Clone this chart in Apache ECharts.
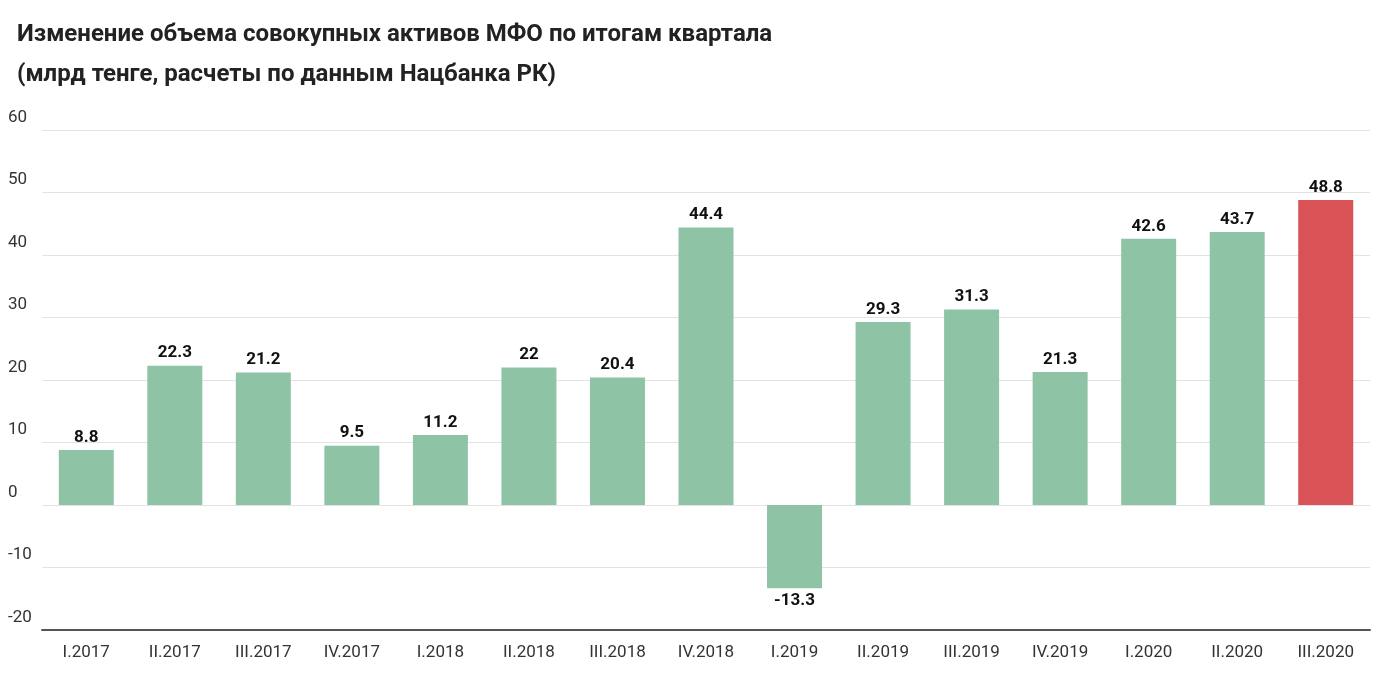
<!DOCTYPE html>
<html>
<head>
<meta charset="utf-8">
<script src="https://cdn.jsdelivr.net/npm/echarts@6/dist/echarts.min.js"></script>
<style>body{margin:0;background:#fff}#main{width:1388px;height:675px}</style>
</head>
<body>
<div id="main"></div>
<script>
var quarters = ['I.2017','II.2017','III.2017','IV.2017','I.2018','II.2018','III.2018','IV.2018','I.2019','II.2019','III.2019','IV.2019','I.2020','II.2020','III.2020'];
var values = [8.8, 22.3, 21.2, 9.5, 11.2, 22, 20.4, 44.4, -13.3, 29.3, 31.3, 21.3, 42.6, 43.7, 48.8];
var highlight = 'III.2020';

var chart = echarts.init(document.getElementById('main'));
chart.setOption({
    animation: false,
    title: {
        text: 'Изменение объема совокупных активов МФО по итогам квартала\n(млрд тенге, расчеты по данным Нацбанка РК)',
        left: 12, top: 10,
        textStyle: {fontFamily: 'Roboto', fontSize: 24, fontWeight: 'bold', color: '#222', lineHeight: 40}
    },
    grid: {left: 42, right: 18, top: 130, bottom: 45},
    xAxis: {
        type: 'category',
        data: quarters,
        axisLine: {onZero: false, lineStyle: {color: '#555', width: 2}},
        axisTick: {show: false},
        axisLabel: {fontFamily: 'Roboto', fontSize: 17, color: '#333', margin: 14}
    },
    yAxis: {
        type: 'value', min: -20, max: 60, interval: 10,
        axisLabel: {fontFamily: 'Roboto', fontSize: 17, color: '#333', align: 'left', margin: 34, verticalAlign: 'bottom', padding: [0, 0, 4, 0]},
        splitLine: {lineStyle: {color: '#e3e3e3'}}
    },
    series: [{
        type: 'bar',
        barWidth: 55,
        data: values.map(function (v, i) {
            return {value: v, itemStyle: {color: quarters[i] === highlight ? '#d95356' : '#8fc3a6'}};
        }),
        label: {show: true, position: 'outside', fontFamily: 'Roboto', fontSize: 17, fontWeight: 'bold', color: '#111', distance: 4}
    }]
});
</script>
</body>
</html>
